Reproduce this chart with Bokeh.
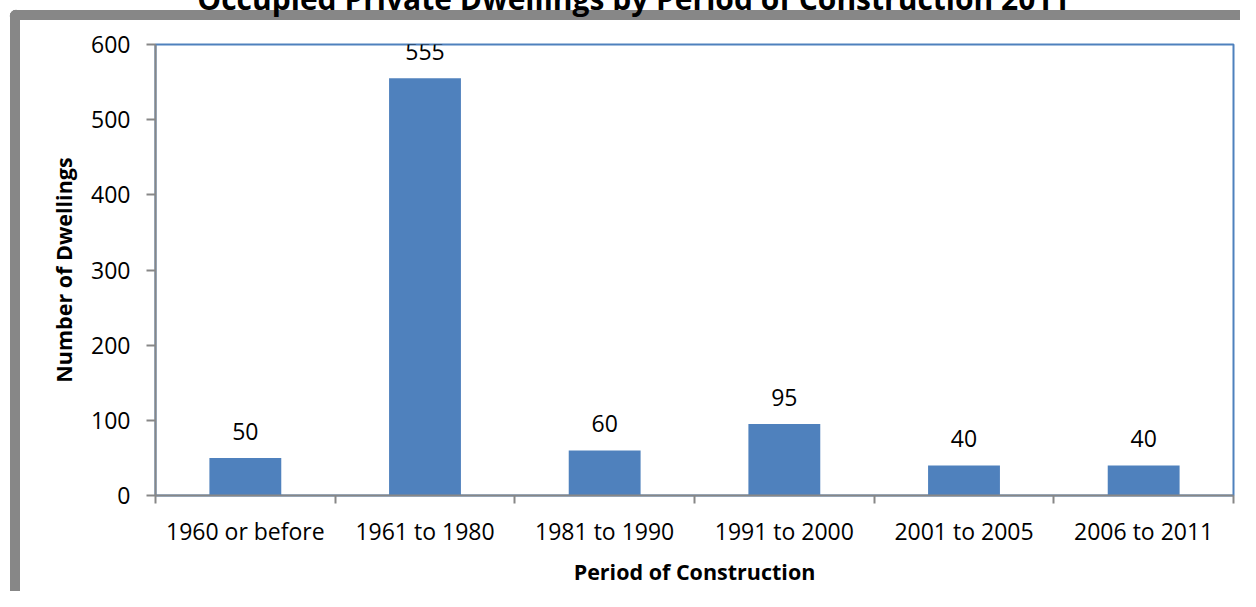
from bokeh.plotting import figure
from bokeh.models import (Range1d, FixedTicker, LinearAxis, Label,
                          ColumnDataSource, LabelSet)
from bokeh.core.properties import value
from bokeh.embed import file_html
from bokeh.resources import INLINE

# ---- data ----
categories = ["1960 or before", "1961 to 1980", "1981 to 1990",
              "1991 to 2000", "2001 to 2005", "2006 to 2011"]
dwellings = [50, 555, 60, 95, 40, 40]
y_ticks = [0, 100, 200, 300, 400, 500, 600]
title_text = "Occupied Private Dwellings by Period of Construction 2011"
x_title = "Period of Construction"
y_title = "Number of Dwellings"

FONT = "Open Sans"
GRAY = "#878787"
BLUE = "#4F81BD"

n = len(categories)
centers = [i + 0.5 for i in range(n)]
bounds = [float(i) for i in range(n + 1)]

W, H = 1240, 591
p = figure(width=W, height=H, output_backend="svg", toolbar_location=None,
           x_range=Range1d(0, n), y_range=Range1d(y_ticks[0], y_ticks[-1]),
           x_axis_type=None, y_axis_type=None,
           min_border_left=155, min_border_right=7,
           min_border_top=44, min_border_bottom=96)
p.background_fill_color = "white"
# transparent border area so that the chart's gray frame (CSS) shows through
p.border_fill_color = None
p.styles = {
    "background-color": "white",
    "background-image": (
        f"radial-gradient(circle at 16px 16px, {GRAY} 6px, transparent 6.6px), "
        f"linear-gradient({GRAY}, {GRAY}), "
        f"linear-gradient({GRAY}, {GRAY})"
    ),
    "background-position": "0px 0px, 10px 16px, 16px 10px",
    "background-size": "20px 20px, 10px 100%, 100% 10px",
    "background-repeat": "no-repeat",
}
p.outline_line_color = BLUE
p.outline_line_width = 2

# axes
xaxis = LinearAxis(ticker=FixedTicker(ticks=centers, minor_ticks=bounds))
xaxis.major_label_overrides = {c: lab for c, lab in zip(centers, categories)}
xaxis.major_tick_out = 0
xaxis.major_tick_in = 0
xaxis.minor_tick_out = 8
xaxis.minor_tick_in = 0
xaxis.minor_tick_line_color = GRAY
xaxis.minor_tick_line_width = 2
xaxis.axis_line_color = GRAY
xaxis.axis_line_width = 2
xaxis.major_label_standoff = 11
xaxis.major_label_text_font = FONT
xaxis.major_label_text_font_size = "23px"
xaxis.major_label_text_color = "black"
xaxis.axis_label = x_title
xaxis.axis_label_text_font = FONT
xaxis.axis_label_text_font_style = "bold"
xaxis.axis_label_text_font_size = "21.5px"
xaxis.axis_label_text_color = "black"
xaxis.axis_label_standoff = 7
p.add_layout(xaxis, "below")

yaxis = LinearAxis(ticker=FixedTicker(ticks=y_ticks, minor_ticks=[]))
yaxis.major_tick_out = 9
yaxis.major_tick_in = 0
yaxis.major_tick_line_color = GRAY
yaxis.major_tick_line_width = 2
yaxis.minor_tick_out = 0
yaxis.minor_tick_in = 0
yaxis.axis_line_color = GRAY
yaxis.axis_line_width = 2
yaxis.major_label_standoff = 16
yaxis.major_label_text_font = FONT
yaxis.major_label_text_font_size = "23px"
yaxis.major_label_text_color = "black"
yaxis.axis_label = y_title
yaxis.axis_label_text_font = FONT
yaxis.axis_label_text_font_style = "bold"
yaxis.axis_label_text_font_size = "21.5px"
yaxis.axis_label_text_color = "black"
yaxis.axis_label_standoff = 10
p.add_layout(yaxis, "left")

p.xgrid.visible = False
p.ygrid.ticker = FixedTicker(ticks=y_ticks[1:-1])
p.ygrid.grid_line_color = GRAY
p.ygrid.grid_line_width = 2

src = ColumnDataSource(dict(x=centers, top=dwellings,
                            lab=[str(v) for v in dwellings]))
p.vbar(x="x", top="top", width=0.4, bottom=0, source=src,
       fill_color=BLUE, line_color=None)

labels = LabelSet(x="x", y="top", text="lab", source=src,
                  text_align="center", text_baseline="alphabetic",
                  y_offset=18, text_font=value(FONT), text_font_size="23px",
                  text_color="black")
p.add_layout(labels)

# chart title (cut off at the top of the picture, as in the reference);
# placed in the top panel so it is not clipped to the plot frame
title = Label(x=633, y=-2, x_units="canvas", y_units="canvas", text=title_text,
              text_align="center", text_baseline="alphabetic",
              text_font=FONT, text_font_style="bold", text_font_size="30px",
              text_color="black")
p.add_layout(title, "above")

open("out.html", "w").write(file_html(p, INLINE))
